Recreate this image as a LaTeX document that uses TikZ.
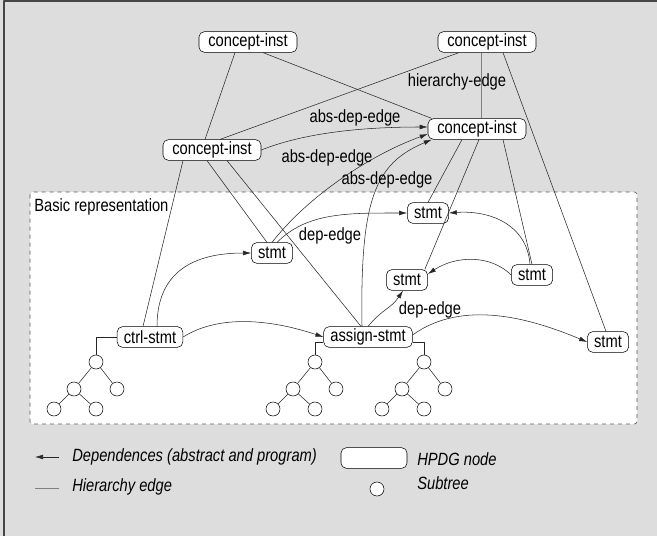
\documentclass[tikz,border=0pt]{standalone}
\usepackage{fontspec}
\setmainfont{Liberation Sans}[FakeStretch=0.83]
\usetikzlibrary{arrows.meta}

\definecolor{bggray}{RGB}{221,221,221}
\definecolor{framegray}{RGB}{70,70,70}

\tikzset{
  hpdg/.style={draw, rounded corners=4pt, fill=white, inner xsep=5pt, inner ysep=0pt, minimum height=15.5pt},
  cinst/.style={hpdg, minimum width=73.5pt},
  leaf/.style={draw, circle, fill=white, inner sep=0pt, minimum size=10.5pt},
  hier/.style={black!85},
  dep/.style={black!85, ->},
  lbl/.style={inner sep=0pt},
  legend/.style={inner sep=0pt, anchor=west, font=\fontsize{13.3}{15}\selectfont\itshape},
}

% small subtree: name prefix, root x, root y
\newcommand{\subtree}[3]{%
  \node[leaf] (#1r) at (#2,#3) {};
  \node[leaf] (#1a) at (#2-22,#3+27) {};
  \node[leaf] (#1b) at (#2+21,#3+27) {};
  \node[leaf] (#1c) at (#2-42,#3+47) {};
  \node[leaf] (#1d) at (#2,#3+47) {};
  \draw[hier] (#1r) -- (#1a) (#1r) -- (#1b) (#1a) -- (#1c) (#1a) -- (#1d);
}

\begin{document}
\begin{tikzpicture}[x=0.75pt, y=-0.75pt, font=\fontsize{13.3}{15}\selectfont, >={Latex[length=6pt,width=3.5pt]}, line join=round]
\useasboundingbox (0,0) rectangle (657,536);
% background and frame
\fill[bggray] (0,0) rectangle (657,536);
\draw[framegray, line width=1.1pt] (4,536) -- (4,1) -- (657,1);
% basic representation
\draw[gray!70!black, dashed, fill=white, rounded corners=2pt] (30,192) rectangle (637,424);
\node[lbl, anchor=west] (basic) at (34,207) {Basic representation};

% concept instances
\node[cinst] (ci1) at (248,42) {concept-inst};
\node[cinst] (ci2) at (487,42) {concept-inst};
\node[cinst] (ci3) at (477,129) {concept-inst};
\node[cinst] (ci4) at (212,150) {concept-inst};
% statements
\node[hpdg] (sa) at (272,253) {stmt};
\node[hpdg] (sb) at (428,213) {stmt};
\node[hpdg] (sc) at (407,280) {stmt};
\node[hpdg] (sd) at (532,275) {stmt};
\node[hpdg] (se) at (608,342) {stmt};
\node[hpdg] (ctrl) at (150,337) {ctrl-stmt};
\node[hpdg] (assign) at (368,337) {assign-stmt};

% hierarchy edges
\draw[hier] ([xshift=-9.75pt]ci1.south) -- ([xshift=-5.25pt]ci4.north);
\draw[hier] ([xshift=11.25pt]ci1.south) -- ([xshift=3pt]ci3.north west);
\draw[hier] ([xshift=-21pt]ci2.south) -- ([xshift=6pt]ci4.north);
\draw[gray, semithick] ([xshift=-4.5pt]ci2.south) -- ([xshift=3pt]ci3.north);
\draw[hier] ([xshift=12pt]ci2.south) -- ([xshift=-1.5pt]se.north);
\draw[hier] ([xshift=-3.75pt]ci4.south) -- ([xshift=-3.75pt]sa.north);
\draw[hier] ([xshift=11.25pt]ci4.south) -- ([xshift=-5.25pt]assign.north);
\draw[hier] ([xshift=-21.75pt]ci4.south) -- ([xshift=-5.25pt]ctrl.north);
\draw[hier] ([xshift=-11.25pt]ci3.south) -- (sb.north);
\draw[hier] ([xshift=1.5pt]ci3.south) -- ([xshift=-2.25pt]sc.north east);
\draw[hier] ([xshift=19.5pt]ci3.south) -- (sd.north);

% dependence edges
\draw[dep] (ci4.east) .. controls +(50,-20) and +(-50,0) .. ([yshift=1.5pt]ci3.west);
\draw[dep] (sa.north) .. controls +(35,-45) and +(-60,22) .. ([yshift=-3.75pt]ci3.west);
\draw[dep] ([xshift=-4.5pt]assign.north) .. controls +(-2,-127) and +(-57,24) .. ([xshift=3pt]ci3.south west);
\draw[dep] ([xshift=3.75pt]sa.north) .. controls +(30,-30) and +(-60,0) .. (sb.west);
\draw[dep] ([xshift=5.25pt]ctrl.north) .. controls +(0,-60) and +(-50,0) .. (sa.west);
\draw[dep] (ctrl.east) .. controls +(40,-25) and +(-45,-15) .. (assign.west);
\draw[dep] (assign.north) .. controls +(15,-18) and +(-12,18) .. ([xshift=-3pt]sc.south);
\draw[dep] ([yshift=1.5pt]assign.east) .. controls +(50,-36) and +(-57,-24) .. (se.west);
\draw[dep] ([xshift=-1.5pt]sd.north) .. controls +(-3,-40) and +(41,-3) .. (sb.east);
\draw[dep] (sd.west) .. controls +(-20,-20) and +(29,-19) .. ([yshift=4.5pt]sc.east);

% edge labels
\node[lbl] (lh) at (457,82) {hierarchy-edge};
\node[lbl] (la1) at (355,118) {abs-dep-edge};
\node[lbl] (la2) at (327,158) {abs-dep-edge};
\node[lbl] (la3) at (387,180) {abs-dep-edge};
\node[lbl] (ld1) at (330,236) {dep-edge};
\node[lbl] (ld2) at (430,310) {dep-edge};

% subtrees
\subtree{ta}{96}{362}
\subtree{tb}{315}{362}
\subtree{tc}{424}{362}
\draw[hier] (ctrl.west) -| (tar);
\draw[hier] ([yshift=-3.75pt]assign.west) -| (tbr);
\draw[hier] ([yshift=-3.75pt]assign.east) -| (tcr);

% legend
\coordinate (depA) at (35,457);
\coordinate (depB) at (59,457);
\draw[dep] (depB) -- (depA);
\node[legend] (ldep) at (72,457) {Dependences (abstract and program)};
\node[hpdg, minimum width=49.5pt] (lnode) at (374,458) {};
\node[legend] (lnodet) at (417,459) {HPDG node};
\coordinate (hierA) at (35,488);
\coordinate (hierB) at (59,488);
\draw[gray] (hierA) -- (hierB);
\node[legend] (lhier) at (72,487) {Hierarchy edge};
\node[leaf] (lleaf) at (377,489) {};
\node[legend] (lleaft) at (417,483) {Subtree};
\end{tikzpicture}
\end{document}
